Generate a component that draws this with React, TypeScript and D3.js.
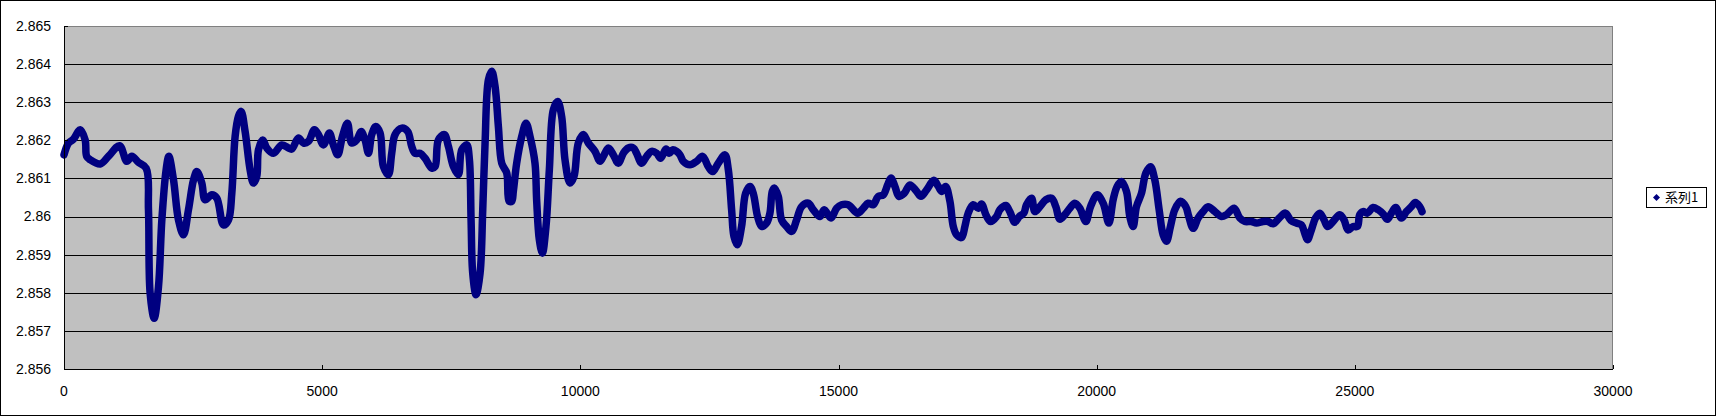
import React from "react";
import * as d3 from "d3";

const sampleX: number[] = [
  0, 88, 184, 314, 410, 439, 507, 701, 862, 1075, 1217, 1314, 1443, 1591, 1636, 1668, 1746, 1830, 1895, 1978,
  2030, 2121, 2217, 2314, 2411, 2508, 2572, 2669, 2733, 2863, 2960, 3088, 3185, 3250, 3314, 3379, 3430, 3508, 3604, 3669,
  3733, 3766, 3850, 3927, 4056, 4217, 4346, 4412, 4540, 4637, 4733, 4850, 4927, 5024, 5140, 5217, 5302, 5392, 5489, 5572,
  5669, 5754, 5831, 5896, 5960, 6038, 6122, 6186, 6283, 6347, 6412, 6541, 6657, 6734, 6799, 6895, 6993, 7122, 7187, 7251,
  7367, 7445, 7542, 7638, 7702, 7800, 7852, 7884, 7916, 7980, 8058, 8110, 8155, 8220, 8284, 8349, 8413, 8478, 8575, 8620,
  8671, 8703, 8767, 8865, 8948, 9026, 9122, 9155, 9206, 9264, 9335, 9400, 9477, 9561, 9638, 9703, 9800, 9877, 9961, 10058,
  10155, 10284, 10381, 10446, 10542, 10639, 10735, 10832, 10929, 11026, 11090, 11188, 11284, 11381, 11478, 11555, 11659, 11723, 11788, 11865,
  11930, 11994, 12123, 12252, 12368, 12478, 12562, 12671, 12801, 12866, 12930, 12975, 13040, 13123, 13201, 13285, 13349, 13433, 13510, 13607,
  13672, 13717, 13756, 13833, 13898, 13994, 14092, 14188, 14285, 14414, 14511, 14640, 14724, 14853, 14963, 15059, 15188, 15370, 15480, 15576,
  15673, 15770, 15867, 15951, 16016, 16093, 16170, 16274, 16384, 16513, 16597, 16707, 16847, 16933, 16997, 17075, 17158, 17223, 17288, 17384,
  17448, 17512, 17609, 17706, 17770, 17854, 17944, 18060, 18125, 18241, 18318, 18415, 18499, 18590, 18641, 18738, 18803, 18900, 19016, 19126,
  19209, 19287, 19384, 19480, 19577, 19674, 19790, 19881, 20009, 20126, 20235, 20319, 20396, 20480, 20577, 20642, 20706, 20771, 20868, 20952,
  21042, 21126, 21210, 21287, 21352, 21429, 21513, 21623, 21726, 21784, 21868, 21965, 22062, 22158, 22288, 22417, 22514, 22662, 22772, 22869,
  22998, 23095, 23224, 23321, 23418, 23534, 23656, 23760, 23869, 23966, 24030, 24082, 24159, 24237, 24321, 24405, 24469, 24579, 24708, 24792,
  24869, 24966, 25050, 25095, 25160, 25243, 25353, 25450, 25547, 25631, 25708, 25792, 25902, 25999, 26095, 26173, 26257, 26302,
];

const sampleY: number[] = [
  2.86162, 2.86193, 2.86203, 2.86228, 2.86201, 2.86158, 2.86149, 2.86138, 2.86158, 2.86186, 2.86145, 2.86158, 2.86142, 2.86127, 2.86018, 2.85799, 2.85733, 2.85816, 2.85991, 2.86123,
  2.86158, 2.86096, 2.85991, 2.85952, 2.86018, 2.86096, 2.86118, 2.86088, 2.86044, 2.86057, 2.86048, 2.85978, 2.85991, 2.86061, 2.8621, 2.86263, 2.86276, 2.86223, 2.86123, 2.86088,
  2.86105, 2.86175, 2.86201, 2.8618, 2.86166, 2.86188, 2.8618, 2.86177, 2.86206, 2.86193, 2.86197, 2.86228, 2.86215, 2.86188, 2.86219, 2.86188, 2.86162, 2.8621, 2.86245, 2.86193,
  2.86201, 2.86223, 2.86201, 2.86166, 2.86215, 2.86236, 2.86219, 2.86131, 2.8611, 2.86166, 2.86215, 2.86232, 2.86223, 2.86184, 2.86166, 2.86166, 2.86153, 2.86127, 2.86131, 2.86201,
  2.86215, 2.86184, 2.86131, 2.8611, 2.86175, 2.86188, 2.86149, 2.85991, 2.85851, 2.85795, 2.85851, 2.86018, 2.86193, 2.86359, 2.86381, 2.86341, 2.86236, 2.8614, 2.86114, 2.8604,
  2.8604, 2.86067, 2.8614, 2.8621, 2.86245, 2.8621, 2.8614, 2.8604, 2.85939, 2.85904, 2.85974, 2.86123, 2.8628, 2.86302, 2.86263, 2.86149, 2.86088, 2.86105, 2.86193, 2.86215,
  2.86193, 2.86171, 2.86145, 2.86158, 2.8618, 2.86162, 2.8614, 2.86166, 2.8618, 2.8618, 2.86166, 2.8614, 2.86158, 2.86171, 2.86166, 2.86153, 2.86177, 2.86166, 2.86175, 2.86171,
  2.86162, 2.86145, 2.86136, 2.86145, 2.86158, 2.86131, 2.86118, 2.8614, 2.86162, 2.86123, 2.86018, 2.85948, 2.85926, 2.85974, 2.86061, 2.86079, 2.86061, 2.86, 2.85974, 2.85983,
  2.86009, 2.86066, 2.86075, 2.86053, 2.85991, 2.85974, 2.85961, 2.85991, 2.86026, 2.86035, 2.86018, 2.86, 2.86018, 2.85996, 2.86022, 2.86031, 2.86031, 2.86009, 2.86022, 2.86035,
  2.86031, 2.86053, 2.86057, 2.86083, 2.86101, 2.86079, 2.86053, 2.86061, 2.86083, 2.86066, 2.86053, 2.8607, 2.86095, 2.86079, 2.86066, 2.86079, 2.8604, 2.85974, 2.85952, 2.85945,
  2.85974, 2.86009, 2.86031, 2.86022, 2.86033, 2.86005, 2.85987, 2.86, 2.86018, 2.86029, 2.86013, 2.85985, 2.86, 2.86009, 2.86031, 2.86048, 2.86013, 2.86026, 2.86044, 2.86048,
  2.86026, 2.85993, 2.86005, 2.86022, 2.86035, 2.86022, 2.85987, 2.86026, 2.86057, 2.86035, 2.85983, 2.86044, 2.86079, 2.86092, 2.86066, 2.86, 2.85974, 2.86026, 2.86061, 2.86114,
  2.86131, 2.86096, 2.86018, 2.85952, 2.85935, 2.85974, 2.86018, 2.8604, 2.86026, 2.86, 2.85969, 2.85996, 2.86013, 2.86026, 2.86013, 2.86, 2.86005, 2.86022, 2.85996, 2.85987,
  2.85987, 2.85983, 2.85987, 2.85987, 2.85981, 2.85996, 2.86009, 2.8599, 2.85983, 2.85978, 2.85956, 2.85939, 2.85965, 2.85996, 2.86009, 2.85991, 2.85974, 2.85987, 2.86005, 2.85991,
  2.85965, 2.85974, 2.85974, 2.86005, 2.86013, 2.86009, 2.86024, 2.86018, 2.86007, 2.85993, 2.86009, 2.86024, 2.85996, 2.86013, 2.86026, 2.86037, 2.86026, 2.86013,
];

const xTicks: number[] = [0, 5000, 10000, 15000, 20000, 25000, 30000];
const yTicks: number[] = [2.856, 2.857, 2.858, 2.859, 2.86, 2.861, 2.862, 2.863, 2.864, 2.865];
const yTickLabels: string[] = ["2.856", "2.857", "2.858", "2.859", "2.86", "2.861", "2.862", "2.863", "2.864", "2.865"];
const seriesName = "系列1";

const W = 1716;
const H = 416;
const PL = 64;
const PR = 1613;
const PT = 26;
const PB = 369;
const NAVY = "#000080";
const FONT = "'Liberation Sans', Arial, sans-serif";

export default function App() {
  const x = d3.scaleLinear().domain([0, 30000]).range([PL, PR]);
  const y = d3.scaleLinear().domain([2.856, 2.865]).range([PB, PT]);
  const pts: [number, number][] = sampleX.map((v, i) => [v, sampleY[i]]);
  const line = d3
    .line<[number, number]>()
    .x((d) => x(d[0]))
    .y((d) => y(d[1]))
    .curve(d3.curveCatmullRom.alpha(0.5));
  const diamond = (cx: number, cy: number, r: number) =>
    `M${cx},${cy - r}L${cx + r},${cy}L${cx},${cy + r}L${cx - r},${cy}Z`;

  return (
    <svg
      width={W}
      height={H}
      style={{ position: "absolute", left: 0, top: 0, display: "block", background: "#fff" }}
    >
      <rect x={0.5} y={0.5} width={W - 1} height={H - 1} fill="#fff" stroke="#000" strokeWidth={1} />
      <rect x={PL} y={PT} width={PR - PL} height={PB - PT} fill="#C0C0C0" />
      {yTicks.slice(1, -1).map((t) => (
        <line key={"g" + t} x1={PL} x2={PR} y1={Math.round(y(t)) + 0.5} y2={Math.round(y(t)) + 0.5} stroke="#000" strokeWidth={1} />
      ))}
      <line x1={PL} x2={PR} y1={PT + 0.5} y2={PT + 0.5} stroke="#808080" strokeWidth={1} />
      <line x1={PR - 0.5} x2={PR - 0.5} y1={PT} y2={PB} stroke="#808080" strokeWidth={1} />
      <path d={line(pts) || ""} fill="none" stroke={NAVY} strokeWidth={7.5} strokeLinejoin="round" strokeLinecap="round" />
      <line x1={PL + 0.5} x2={PL + 0.5} y1={PT} y2={PB + 1} stroke="#000" strokeWidth={1} />
      <line x1={PL} x2={PR} y1={PB + 0.5} y2={PB + 0.5} stroke="#000" strokeWidth={1} />
      {yTicks.map((t, i) => (
        <g key={"y" + t}>
          <line x1={PL} x2={PL + 4} y1={Math.round(y(t)) + 0.5} y2={Math.round(y(t)) + 0.5} stroke="#000" />
          <text x={51} y={y(t)} dy="0.35em" textAnchor="end" fontFamily={FONT} fontSize={14} fill="#000">
            {yTickLabels[i]}
          </text>
        </g>
      ))}
      {xTicks.map((t) => (
        <g key={"x" + t}>
          <line x1={Math.round(x(t)) + 0.5} x2={Math.round(x(t)) + 0.5} y1={PB} y2={PB - 4} stroke="#000" />
          <text x={x(t)} y={391} dy="0.35em" textAnchor="middle" fontFamily={FONT} fontSize={14} fill="#000">
            {t}
          </text>
        </g>
      ))}
      <rect x={1646.5} y={187.5} width={60} height={20} fill="#fff" stroke="#000" strokeWidth={1} />
      <path d={diamond(1656.5, 197.5, 3.5)} fill={NAVY} />
      <text x={1665} y={197.5} dy="0.35em" fontFamily="'Noto Sans CJK JP', sans-serif" fontSize={13} fill="#000">
        {seriesName}
      </text>
    </svg>
  );
}
